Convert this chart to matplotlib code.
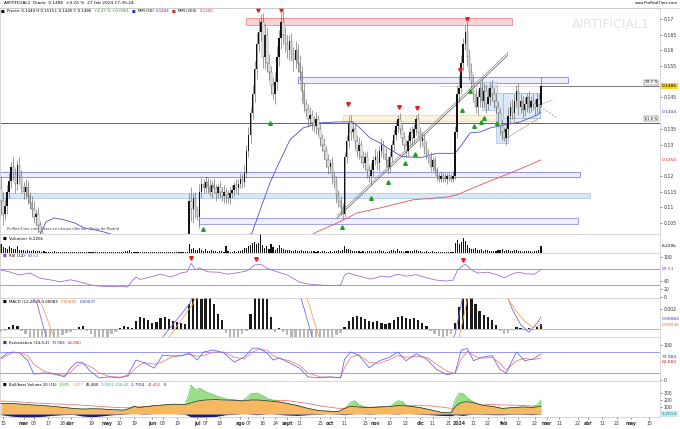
import numpy as np
import pandas as pd
import matplotlib
matplotlib.use('Agg')
import matplotlib.pyplot as plt
import matplotlib.transforms as mtransforms
from matplotlib.patches import Rectangle, FancyBboxPatch

W, H = 680, 429

# precios de cierre diarios (en 1e-4)
closes = [
    1120, 1080, 1105, 1150, 1185, 1230, 1205, 1175, 1235, 1200, 1165, 1150, 1165, 1135, 1115, 1095, 1070, 1080, 1045, 1020,
    1000, 985, 990, 975, 980, 965, 970, 960, 950, 955, 945,
    940, 935, 945, 930, 920, 925, 915, 910, 905, 900,
    895, 905, 890, 880, 885, 875, 870, 880, 865, 860,
    865, 855, 850, 860, 855, 845, 850, 840, 850, 845,
    860, 880, 905, 935, 920, 910, 915, 925, 930, 920,
    925, 935, 930, 940, 945, 935, 940, 950, 945, 955,
    950, 960, 955, 965, 960, 970, 965, 975, 970, 980, 975,
    1120, 1095, 1130, 1090, 1070, 1150, 1175, 1160, 1180, 1165, 1150, 1170, 1160, 1145, 1165, 1150, 1135, 1150, 1140, 1130,
    1145, 1155, 1170, 1160, 1175, 1190, 1180, 1210,
    1280, 1330, 1400, 1460, 1540, 1620, 1660, 1690, 1580, 1650, 1560, 1530, 1490, 1460, 1500, 1580, 1640, 1690, 1650, 1620,
    1600, 1630, 1590, 1570, 1600, 1560, 1530, 1470, 1430, 1410, 1380, 1395, 1370, 1360, 1380, 1350, 1320, 1300, 1280, 1250,
    1230, 1240, 1200, 1180, 1140, 1120, 1100, 1080,
    1260, 1310, 1370, 1340, 1350, 1310, 1280, 1300, 1260, 1240, 1260, 1220, 1200, 1220, 1250, 1260, 1240, 1280, 1300, 1270,
    1250, 1230, 1260, 1300, 1330, 1360, 1380, 1350, 1320, 1300, 1280, 1310, 1340, 1320, 1350, 1380, 1340, 1310, 1320, 1290,
    1270, 1260, 1230, 1250, 1220, 1200, 1190, 1200, 1195, 1190, 1200, 1195, 1190, 1200,
    1340, 1460, 1480, 1560, 1620, 1660, 1580, 1530, 1500, 1460, 1420, 1450, 1480, 1440, 1470, 1430, 1450, 1480, 1460, 1440,
    1420, 1400, 1360, 1340, 1320, 1350, 1390, 1420, 1400, 1440, 1470, 1420, 1440, 1410, 1430, 1450, 1420, 1440, 1430, 1420,
    1445, 1425, 1486,
]
first_open = 1160

wick_up = [
    40, 30, 25, 20, 25, 15, 30, 20, 15, 25, 20, 15, 25, 20, 15, 20, 25, 15, 20, 10,
    5, 10, 5, 10, 5, 10, 5, 10, 5, 10, 5, 10, 5, 10, 5, 10, 5, 10, 5, 10,
    5, 10, 5, 10, 5, 10, 5, 10, 5, 10, 5, 10, 5, 10, 5, 10, 5, 10, 5, 10,
    5, 10, 5, 10, 5, 10, 5, 10, 5, 10, 5, 10, 5, 10, 5, 10, 5, 10, 5, 10,
    5, 10, 5, 10, 5, 10, 5, 10, 5, 10, 5, 10, 25, 45, 15, 20, 15, 25, 20, 15,
    20, 15, 25, 15, 20, 15, 10, 20, 15, 20, 10, 15, 20, 15, 10, 20, 15, 20, 15, 25,
    20, 25, 20, 30, 25, 35, 40, 25, 30, 35, 25, 30, 20, 25, 30, 35, 25, 30, 35, 25,
    30, 20, 25, 20, 30, 20, 25, 20, 25, 15, 20, 25, 15, 20, 25, 15, 20, 15, 20, 15,
    20, 15, 20, 15, 20, 15, 15, 15, 15, 20, 20, 25, 20, 15, 20, 25, 15, 20, 15, 20,
    15, 20, 15, 25, 20, 15, 20, 15, 20, 15, 20, 15, 20, 15, 15, 20, 15, 20, 15, 20,
    15, 20, 15, 15, 20, 15, 20, 15, 20, 15, 15, 10, 15, 10, 10, 15, 10, 15, 10, 10,
    10, 15, 20, 30, 40, 25, 20, 20, 30, 25, 30, 25, 20, 25, 20, 30, 25, 20, 30, 20,
    25, 20, 25, 20, 15, 20, 15, 20, 25, 20, 25, 20, 20, 25, 20, 15, 20, 15, 20, 15,
    20, 15, 20, 15, 29,
]
wick_dn = [
    45, 35, 20, 25, 20, 25, 20, 30, 20, 25, 20, 25, 20, 25, 20, 25, 20, 30, 25, 20,
    10, 15, 10, 15, 10, 15, 10, 15, 10, 15, 10, 15, 10, 15, 10, 15, 10, 15, 10, 15,
    10, 15, 10, 15, 10, 15, 10, 15, 10, 15, 10, 15, 10, 15, 10, 15, 10, 15, 10, 15,
    10, 15, 10, 15, 10, 15, 10, 15, 10, 15, 10, 15, 10, 15, 10, 15, 10, 15, 10, 15,
    10, 15, 10, 15, 10, 15, 10, 15, 10, 15, 10, 15, 5, 40, 45, 25, 10, 35, 20, 15,
    15, 20, 15, 20, 15, 25, 15, 20, 15, 20, 25, 15, 20, 15, 20, 15, 20, 15, 20, 15,
    15, 20, 25, 20, 25, 30, 25, 30, 35, 40, 30, 25, 30, 15, 30, 25, 30, 35, 30, 25,
    25, 30, 25, 35, 25, 30, 25, 30, 25, 20, 25, 20, 25, 20, 25, 20, 25, 20, 25, 20,
    25, 20, 25, 20, 25, 20, 25, 15, 10, 20, 20, 25, 20, 25, 20, 25, 20, 15, 20, 25,
    20, 30, 20, 15, 20, 25, 20, 15, 20, 25, 20, 15, 20, 15, 20, 15, 20, 15, 20, 15,
    15, 20, 15, 20, 15, 20, 15, 20, 15, 20, 15, 15, 10, 15, 10, 10, 15, 10, 15, 10,
    10, 10, 10, 20, 25, 20, 25, 20, 30, 25, 20, 25, 20, 25, 30, 20, 25, 30, 20, 25,
    20, 25, 20, 25, 30, 25, 10, 20, 25, 20, 20, 25, 20, 25, 20, 25, 20, 25, 20, 15,
    20, 25, 20, 25, 5,
]

# volumen (miles)
volume = [
    8000, 5500, 4500, 3500, 6000, 5000, 4000, 3500, 6500, 3000, 2500, 3000, 2000, 2500, 1800, 2200, 3000, 2000, 1500, 1800,
    1200, 1500, 1000, 1300, 900, 1100, 1400, 800, 1000, 1200, 700, 900, 1100, 800, 600, 900, 1000, 700, 800, 600,
    900, 700, 1200, 800, 600, 700, 900, 500, 800, 600, 700, 1000, 500, 600, 800, 500, 700, 600, 900, 500,
    800, 1500, 2200, 2500, 1200, 900, 800, 1000, 700, 900, 600, 800, 1100, 700, 900, 600, 800, 700, 1000, 1200,
    800, 700, 900, 600, 800, 1000, 700, 900, 600, 800, 700, 1200, 8000, 3500, 4500, 2500, 3000, 5000, 2500, 2000,
    3500, 2000, 1800, 2500, 1500, 2000, 1200, 1800, 1500, 1000, 6000, 1500, 1200, 1000, 1400, 1200, 1800, 1500, 2500, 5000,
    4500, 6000, 7000, 9500, 10500, 8000, 9000, 18000, 7500, 5000, 6500, 4000, 8000, 5500, 3000, 4500, 7000, 5000, 3500, 3000,
    2500, 3000, 2000, 1800, 2500, 1500, 2000, 2500, 1800, 1500, 2000, 1200, 1500, 1800, 1000, 1500, 1200, 2000, 1500, 1000,
    1200, 1800, 1000, 1500, 2000, 2500, 1800, 3000, 6500, 4000, 3500, 2500, 2000, 1800, 1500, 2000, 1200, 1500, 1000, 1800,
    1500, 2000, 1200, 1500, 1800, 2500, 2000, 1500, 1200, 1000, 1800, 2500, 3000, 2000, 3500, 2000, 1500, 1200, 1800, 1500,
    2000, 1500, 2500, 3000, 1800, 1500, 1200, 1000, 1500, 1200, 1000, 1500, 800, 1200, 1000, 900, 1200, 800, 1000, 900,
    1000, 1200, 9000, 12000, 8000, 10000, 14000, 11000, 7000, 5000, 4000, 3500, 5000, 3000, 2500, 3500, 2000, 2500, 3000, 2000,
    1800, 2000, 1500, 2500, 3000, 3500, 2000, 2500, 3000, 2000, 1500, 2500, 3000, 1800, 1500, 1200, 2000, 1500, 1800, 1500,
    1200, 1500, 1800, 2500, 6220,
]

# medias moviles (puntos leidos)
mm50_i = [19, 22, 26, 31, 36, 41, 46, 50, 56, 70, 100, 115, 122.7, 127.6, 131.5, 135, 141.3, 147.7, 156, 164.3, 172,
          176.5, 180.4, 185.3, 190, 196, 205, 213, 222, 225.9, 229.3, 234.2, 239.1, 245.5, 253.8, 262.1, 264]
mm50_v = [0.1010, 0.1054, 0.1066, 0.1060, 0.1050, 0.1034, 0.1028, 0.1022, 0.1010, 0.0980, 0.0970, 0.0990, 0.1018, 0.1108,
          0.1178, 0.1229, 0.1315, 0.1353, 0.1369, 0.1372, 0.1372, 0.1347, 0.1321, 0.1305, 0.1285, 0.1262, 0.1258, 0.1272,
          0.1272, 0.1305, 0.1337, 0.1340, 0.1353, 0.1362, 0.1372, 0.1394, 0.1404]
mm200_i = [150, 154.5, 164.3, 174.1, 185.3, 201.5, 218.1, 223, 234.2, 250.4, 264]
mm200_v = [0.1005, 0.1022, 0.1050, 0.1082, 0.1098, 0.1124, 0.1133, 0.1140, 0.1171, 0.1213, 0.1251]

# RSI
rsi_i = [0, 4, 9, 14, 19, 24, 29, 34, 39, 44, 48, 53, 58, 62, 64, 66, 68, 73, 78, 83, 88, 91, 93, 95, 97, 101, 106, 111,
         115, 120, 124, 127, 130, 135, 140, 146, 151, 156, 161, 166, 168, 170, 173, 178, 181, 186, 190, 194, 198, 203,
         208, 213, 218, 221, 223, 225, 227, 230, 233, 238, 243, 246, 250, 253, 257, 261, 264]
rsi_v = [67, 63, 55, 60, 47, 43, 38, 43, 37, 30, 27, 26, 27, 25, 40, 50, 44, 50, 57, 50, 60, 63, 84, 68, 73, 63, 62, 57,
         60, 65, 80, 82, 72, 63, 55, 37, 32, 30, 28, 30, 55, 60, 55, 48, 45, 52, 50, 57, 52, 56, 48, 42, 40, 42, 65, 75,
         82, 68, 60, 62, 55, 48, 58, 62, 58, 57, 69.53]

# MACD (1e-4)
hist_v = [-3, -2, 2, 4, 3,
          -2, -5, -8, -10, -12, -12, -10, -10, -9, -8, -6, -4, -3, -1,
          2, 3,
          -2, -5, -9, -10, -10, -8, -5, -3,
          1, 3, 2, 1,
          8, 12, 11, 9, 6, 7, 11, 12, 10, 8, 7, 6, 5,
          25, 35, 33, 30, 34, 32, 25, 15, 9,
          -4, -8, -10, -8, -5, -2,
          15, 35, 40, 38, 30, 12,
          -3, 1,
          -3, -6, -9, -12, -14, -15, -15, -14, -13, -12, -10, -9, -8, -6, -4,
          2, 8, 12, 13, 12, 10, 8, 7, 8, 6, 5, 6,
          9, 12, 13, 11, 10, 11, 9, 6, 3, -2, -5,
          -7, -8, -7, -5, 6, 22, 35, 38, 33,
          25, 18, 14, 12, 9, 4, -2, -5, -4,
          -1, 2, 1, -1, 1, -1, 2, 5]
macd_i = [0, 10, 17.6, 22.5, 27, 50, 72, 77.8, 92.4, 98, 120, 142, 147, 152.6, 158, 190, 215, 222, 226, 232, 246, 250,
          254, 258, 262, 264]
macd_v = [60, 45, 26, -11, -40, -60, -40, -11, 26, 60, 80, 60, 29, -11, -40, -50, -30, -5, 35, 60, 40, 20, 5, -3, 6, 12]
sig_i = [0, 14, 20.5, 26.4, 31, 50, 76, 81, 94, 100, 120, 145, 150, 156, 162, 190, 218, 224, 228, 234, 248, 252, 256,
         260, 264]
sig_v = [55, 45, 22, -11, -40, -60, -40, -11, 26, 60, 80, 60, 29, -11, -40, -50, -30, -8, 30, 55, 30, 18, 8, 2, 4]

# Estocastico
sto_i = [0, 3, 6, 9, 13, 16, 21, 26, 31, 34, 37, 40, 44, 48, 53, 58, 62, 66, 70, 75, 79, 83, 88, 92, 96, 99, 104, 109,
         114, 119, 123, 126, 130, 133, 136, 141, 146, 150, 156, 161, 166, 168, 171, 175, 180, 185, 190, 194, 198, 203,
         208, 213, 218, 222, 225, 228, 231, 235, 240, 244, 247, 252, 256, 260, 264]
sto_k = [63, 77, 80, 77, 57, 17, 20, 17, 9, 34, 51, 49, 23, 6, 9, 6, 14, 57, 49, 34, 71, 69, 69, 77, 57, 80, 86, 77, 51,
         66, 91, 91, 77, 57, 63, 49, 34, 9, 6, 9, 6, 60, 80, 70, 35, 55, 65, 80, 55, 75, 60, 30, 15, 20, 85, 90, 55, 65,
         70, 30, 20, 80, 55, 60, 74]
sto_d = [60, 70, 78, 79, 70, 45, 25, 18, 13, 22, 40, 48, 38, 20, 10, 8, 10, 35, 50, 45, 52, 65, 70, 73, 68, 70, 80, 80,
         65, 60, 80, 88, 85, 70, 62, 55, 42, 20, 9, 8, 7, 35, 65, 72, 50, 48, 58, 70, 65, 68, 65, 45, 25, 18, 60, 82, 70,
         62, 65, 48, 28, 55, 62, 58, 63]

# Bull/bear
bb_i = [0, 5, 10, 15, 20, 25, 30, 35, 40, 45, 50, 55, 60, 63, 65, 67, 70, 75, 80, 85, 90, 92, 93, 95, 97, 100, 105, 108,
        110, 115, 118, 120, 122, 125, 128, 131, 135, 140, 145, 150, 155, 160, 165, 168, 171, 173, 175, 180, 185, 190,
        194, 196, 198, 200, 205, 210, 215, 220, 222, 224, 226, 228, 231, 236, 240, 245, 250, 255, 260, 262, 264]
bb_orange = [150, 150, 140, 130, 120, 110, 95, 80, 70, 75, 70, 60, 55, 80, 110, 95, 100, 120, 130, 140, 135, 150, 160,
             175, 190, 200, 205, 200, 200, 195, 185, 190, 200, 200, 195, 185, 175, 150, 120, 80, 50, 40, 35, 80, 110,
             105, 100, 90, 100, 105, 120, 120, 115, 110, 90, 60, 25, 15, 100, 150, 170, 175, 160, 120, 110, 80, 90,
             100, 95, 100, 110]
bb_green = [150, 150, 140, 130, 120, 110, 95, 80, 70, 75, 70, 60, 55, 80, 110, 95, 100, 120, 130, 140, 135, 300, 410,
            340, 370, 320, 260, 235, 215, 200, 190, 230, 290, 300, 260, 210, 180, 150, 120, 80, 50, 40, 35, 80, 170,
            190, 130, 90, 100, 105, 190, 180, 130, 110, 90, 60, 25, 15, 200, 300, 290, 230, 170, 120, 110, 80, 90,
            100, 95, 130, 200]
bb_navy = [-10, -30, -45, -50, -35, -20, -10, -5, -30, -40, -25, -10, -5, 0, 0, 0, -5, 0, 0, 0, -5, -30, -45, -55, -50,
           -45, -35, -20, -10, -5, 0, 0, -5, -10, -5, 0, -5, -15, -20, -10, -5, 0, -5, -10, -5, 0, 0, -5, 0, 0, -5, 0,
           0, 0, -5, -10, -20, -25, -10, -15, -20, -10, -5, -5, -10, -10, -5, -5, -10, -5, -5]
bb_pink = [185, 180, 170, 160, 150, 145, 140, 135, 125, 115, 105, 95, 90, 90, 95, 100, 105, 110, 115, 125, 130, 135, 140,
           145, 150, 160, 170, 175, 180, 185, 190, 195, 195, 200, 200, 200, 195, 190, 170, 150, 120, 100, 80, 75, 80, 85,
           90, 95, 100, 105, 110, 115, 115, 120, 120, 115, 100, 80, 80, 90, 100, 110, 120, 130, 135, 130, 125, 120,
           115, 115, 115]

# eje de fechas
holidays = ['2023-04-07', '2023-04-10', '2023-05-01', '2023-12-25', '2023-12-26', '2024-01-01', '2024-03-29',
            '2024-04-01', '2024-05-01']
days = pd.bdate_range('2023-02-14', '2024-05-31', freq='C', holidays=holidays)
tick_dates = ['2023-02-15', '2023-03-01', '2023-03-08', '2023-03-17', '2023-03-28', '2023-04-03', '2023-04-19',
              '2023-05-02', '2023-05-10', '2023-05-19', '2023-06-01', '2023-06-08', '2023-06-19', '2023-07-03',
              '2023-07-07', '2023-07-18', '2023-08-01', '2023-08-07', '2023-08-16', '2023-08-24', '2023-09-01',
              '2023-09-11', '2023-09-25', '2023-10-02', '2023-10-11', '2023-10-25', '2023-11-01', '2023-11-10',
              '2023-11-22', '2023-12-01', '2023-12-11', '2023-12-21', '2024-01-02', '2024-01-11', '2024-01-22',
              '2024-02-01', '2024-02-12', '2024-02-22', '2024-03-01', '2024-03-11', '2024-03-22', '2024-04-02',
              '2024-04-11', '2024-04-22', '2024-05-02', '2024-05-15']
tick_text = ['15', 'mar', '08', '17', '28', 'abr', '19', 'may', '10', '19', 'jun', '08', '19', 'jul', '07', '18', 'ago',
             '07', '16', '24', 'sept', '11', '25', 'oct', '11', '25', 'nov', '10', '22', 'dic', '11', '21', '2024', '11',
             '22', 'feb', '12', '22', 'mar', '11', '22', 'abr', '11', '22', 'may', '15']

# --- figura ---
fig = plt.figure(figsize=(W / 100, H / 100), dpi=100)
fig.patch.set_facecolor('white')
renderer = fig.canvas.get_renderer()


def panel(top, bottom):
    ax = fig.add_axes([0, 1 - bottom / H, 660 / W, (bottom - top) / H])
    ax.set_xlim(-0.5, 322.2)
    for s in ax.spines.values():
        s.set_color('#c8c8c8')
        s.set_linewidth(0.5)
    ax.yaxis.tick_right()
    ax.tick_params(axis='y', labelsize=3.3, length=1.5, width=0.4, pad=1, colors='#333333')
    ax.tick_params(axis='x', bottom=False, labelbottom=False)
    return ax


def seq_text(x, y, parts, size=2.9, box=None):
    # escribe trozos de texto uno tras otro, midiendo su ancho
    x0 = x
    for s, col in parts:
        t = fig.text(x / W, 1 - y / H, s, fontsize=size, color=col, va='center')
        x += t.get_window_extent(renderer).width + 2.5
    if box is not None:
        fig.add_artist(FancyBboxPatch(((x0 - 1.5) / W, 1 - (y + 3) / H), (x - x0) / W, 6 / H,
                                      boxstyle='square,pad=0', fc='white', ec='#bbbbbb', lw=0.3, zorder=-1,
                                      transform=fig.transFigure))


def tag(ax, y, s, fc, tc='black'):
    tr = mtransforms.blended_transform_factory(ax.transAxes, ax.transData)
    ax.text(1.003, y, s, transform=tr, fontsize=3.2, color=tc, va='center', ha='left',
            bbox=dict(boxstyle='square,pad=0.15', fc=fc, ec='none'), clip_on=False)


n = len(closes)
x = np.arange(n)
c = np.array(closes) / 1e4
o = np.r_[first_open, closes[:-1]] / 1e4
hi = np.maximum(o, c) + np.array(wick_up) / 1e4
lo = np.minimum(o, c) - np.array(wick_dn) / 1e4
up = c >= o
body_b = np.minimum(o, c)
body_h = np.maximum(np.abs(c - o), 0.0002)

# ---- precio ----
ax = panel(8, 234)
ax.set_ylim(0.1015, 0.1735)

zones = [
    (120, 250, 0.1681, 0.1703, '#f9cccc', '#ee7777'),
    (145, 277, 0.1496, 0.1515, '#ececfb', '#7070dd'),
    (167, 262, 0.1375, 0.1394, '#fdf1cf', '#f2d088'),
    (-1, 283, 0.1197, 0.1213, '#ececfb', '#7070dd'),
    (-1, 288, 0.1130, 0.1146, '#d3e3f6', '#a4c2ea'),
    (97, 282, 0.1047, 0.1066, '#eeeefc', '#8080e0'),
    (235, 242.5, 0.1410, 0.1499, '#d3e3f6', '#a4c2ea'),
    (242, 248, 0.1305, 0.1464, '#d3e3f6', '#a4c2ea'),
    (245.5, 263.6, 0.1385, 0.1464, '#dde9f8', '#8fb0e4'),
]
for i0, i1, p0, p1, fc, ec in zones:
    ax.add_patch(Rectangle((i0, p0), i1 - i0, p1 - p0, fc=fc, ec=ec, lw=0.6, zorder=1, alpha=0.85))

ax.axhline(0.1370, color='#222222', lw=0.5, zorder=2)
ax.plot([214, 264], [0.1486, 0.1486], color='#888888', lw=0.4, ls=(0, (1, 1)), zorder=2)
ax.plot([264, 322.2], [0.1486, 0.1486], color='#444444', lw=0.5, zorder=2)
ax.text(321, 0.1498, '38.2 %', fontsize=2.5, ha='right', va='center',
        bbox=dict(boxstyle='square,pad=0.2', fc='white', ec='#333333', lw=0.3))
ax.text(321, 0.1382, '61.8 %', fontsize=2.5, ha='right', va='center',
        bbox=dict(boxstyle='square,pad=0.2', fc='white', ec='#333333', lw=0.3))

# canal y lineas de tendencia
ax.plot([164.3, 247.9], [0.1066, 0.1585], color='#555555', lw=0.5, zorder=3)
ax.plot([164.3, 247.9], [0.1074, 0.1593], color='#888888', lw=0.5, zorder=3)
ax.plot([255.3, 270], [0.1410, 0.1442], color='#888888', lw=0.5, ls=(0, (3, 2)), zorder=3)
ax.plot([263.6, 271.9], [0.1420, 0.1385], color='#888888', lw=0.5, ls=(0, (3, 2)), zorder=3)
ax.plot([247, 262], [0.1320, 0.1380], color='#aaaaaa', lw=0.5, zorder=3)

ax.plot(mm50_i, mm50_v, color='#5050d0', lw=0.6, zorder=4)
ax.plot(mm200_i, mm200_v, color='#e85050', lw=0.6, zorder=4)

ax.vlines(x, lo, hi, color='#555555', lw=0.4, zorder=5)
ax.bar(x[up], body_h[up], bottom=body_b[up], width=0.75, color='#111111', lw=0, zorder=6)
ax.bar(x[~up], body_h[~up], bottom=body_b[~up], width=0.75, facecolor='white', edgecolor='#666666', lw=0.35, zorder=6)

red_arr = [(125.7, 0.1729), (136.9, 0.1729), (169.7, 0.1429), (194.6, 0.1420), (203.4, 0.1417), (224.5, 0.1538),
           (227.9, 0.1700)]
green_arr = [(98.8, 0.1031), (131.5, 0.1369), (166.7, 0.1038), (180.9, 0.1130), (189.2, 0.1181), (197.6, 0.1241),
             (202.4, 0.1270), (225.4, 0.1410), (229.3, 0.1471), (231.3, 0.1359), (234.7, 0.1372), (236.2, 0.1385),
             (242.5, 0.1369)]
ax.plot(*zip(*red_arr), ls='none', marker='v', ms=2.6, color='#e02020', zorder=7)
ax.plot(*zip(*green_arr), ls='none', marker='^', ms=2.6, color='#20a020', zorder=7)

pt = [0.105, 0.11, 0.115, 0.12, 0.13, 0.135, 0.145, 0.155, 0.16, 0.165, 0.17]
ax.set_yticks(pt)
ax.set_yticklabels(['{:g}'.format(v) for v in pt])
tag(ax, 0.1486, '0.1486', '#ffd21f')
tag(ax, 0.1404, '0.1404', 'white', '#3030c0')
tag(ax, 0.1250, '0.1250', 'white', '#e02020')
ax.text(0.01, 0.012, 'ProRealTime.com: Datos en tiempo diferido - Bolsa de Madrid', transform=ax.transAxes,
        fontsize=2.6, color='#444444', va='bottom')
ax.text(0.985, 0.955, 'AIRTIFICIAL1', transform=ax.transAxes, fontsize=9, color='#e4e4e4', ha='right', va='top',
        zorder=0)

# ---- volumen ----
av = panel(234, 253)
av.set_ylim(0, 17500)
av.bar(x, volume, width=0.55, color='#111111', lw=0)
av.set_yticks([])
tag(av, 6220, '6.220k', 'white')

# ---- RSI ----
ar = panel(253, 298)
ar.set_ylim(-2.5, 110)
ar.axhline(70, color='#8888ee', lw=0.6)
ar.axhline(30, color='#8888ee', lw=0.6)
ar.plot(rsi_i, rsi_v, color='#a070d8', lw=0.6)
ar.plot([92.9, 124.7, 225.9], [97, 96, 92], ls='none', marker='v', ms=2.6, color='#e02020')
ar.set_yticks([0, 20, 40, 100])
tag(ar, 69.53, '69.53', 'white', '#8a3fd0')

# ---- MACD ----
am = panel(298, 337)
am.set_ylim(-7.7e-4, 31.3e-4)
hx = np.arange(0, n, 2)
hv = np.array(hist_v) / 1e4
am.bar(hx[hv >= 0], hv[hv >= 0], width=1.1, color='#1a1a1a', lw=0)
am.bar(hx[hv < 0], hv[hv < 0], width=1.1, color='#b8b8b8', lw=0)
am.axhline(0, color='#9999ee', lw=0.5)
am.plot(macd_i, np.array(macd_v) / 1e4, color='#7070e8', lw=0.6)
am.plot(sig_i, np.array(sig_v) / 1e4, color='#f0a060', lw=0.6)
am.set_yticks([0.002])
am.set_yticklabels(['0.002'])
tag(am, 0.0010, '0.00083', 'white', '#3030c0')
tag(am, 0.0004, '0.00045', 'white', '#e07020')

# ---- estocastico ----
ast = panel(337, 381)
ast.set_ylim(-2.9, 122.9)
ast.axhline(80, color='#8888ee', lw=0.6)
ast.axhline(20, color='#8888ee', lw=0.6)
ast.plot(sto_i, sto_d, color='#f08080', lw=0.6)
ast.plot(sto_i, sto_k, color='#6a6ae8', lw=0.6)
ast.set_yticks([0, 100])
tag(ast, 66, '73.984', 'white', '#3030c0')
tag(ast, 50, '62.880', 'white', '#e02020')

# ---- bull/bear ----
ab = panel(381, 417)
ab.set_ylim(-43, 471)
ab.plot(bb_i, bb_pink, color='#f07878', lw=0.6, zorder=1)
ab.fill_between(bb_i, bb_orange, bb_green, color='#98e088', lw=0, zorder=2)
ab.plot(bb_i, bb_green, color='#40b040', lw=0.4, zorder=3)
ab.fill_between(bb_i, 0, bb_orange, color='#f6b860', lw=0, zorder=2)
ab.plot(bb_i, bb_orange, color='#3a2a10', lw=0.5, zorder=3)
ab.fill_between(bb_i, 0, bb_navy, color='#1c1c70', lw=0, zorder=2)
ab.set_yticks([100, 200, 300])
tag(ab, 0, '1.2014', '#bff0f0', '#208080')

tpos = days.get_indexer(pd.to_datetime(tick_dates))
ab.set_xticks(tpos)
ab.set_xticklabels(tick_text)
ab.tick_params(axis='x', bottom=True, labelbottom=True, labelsize=3.3, length=1.5, width=0.4, pad=1.5,
               colors='#333333')
for lab in ab.get_xticklabels():
    if not lab.get_text().isdigit() or lab.get_text() == '2024':
        lab.set_fontweight('bold')

# ---- textos de cabecera ----
seq_text(4, 3.5, [('AIRTIFICIAL1  Diario  0.1486  +4.25 %  27 feb 2024 17:35:24', 'black')], size=3.1)
fig.text(678 / W, 1 - 3.5 / H, 'www.ProRealTime.com', fontsize=2.7, ha='right', va='center')
fig.add_artist(plt.Line2D([0, 1], [1 - 7.5 / H, 1 - 7.5 / H], color='#c8c8c8', lw=0.5))
seq_text(1, 11.5, [('\u25a0', 'black'), ('Precio: 0.1440 H 0.1515 L 0.1440 C 0.1486', 'black'),
                   ('+4.25 % +0.0061', '#10a010'), ('\u25a0', '#3030c0'), ('MM (50)', 'black'),
                   ('0.1404', '#3030c0'), ('\u25a0', '#e02020'), ('MM (200)', 'black'), ('0.1250', '#e02020')],
         size=2.8)

seq_text(3, 238.5, [('\u25a0', 'black'), ('Volumen  6.220k', 'black')], box=True)
seq_text(3, 256, [('\u25a0', '#8a3fd0'), ('RSI (14)', 'black'), ('69.53', '#8a3fd0')])
seq_text(3, 302, [('\u25a0', 'black'), ('MACD (12,26,9) 0.00083', 'black'), ('0.00045', '#e07020'),
                  ('0.00037', '#3030c0')], box=True)
seq_text(3, 343, [('\u25a0', '#3030c0'), ('Estoc\u00e1stico (14,3,3)', 'black'), ('73.984', '#3030c0'),
                  ('62.880', '#e02020')])
seq_text(3, 384.5, [('\u25a0', 'black'), ('Bull/bear Volume 20 (15)', 'black'), ('1.530', '#20a020'),
                    ('1.077', '#e09030'), ('45.480', 'black'), ('1.0512 118.42', '#20a0a0'),
                    ('-1.7914', '#1c1c70'), ('41.455', '#e02020'), ('0', 'black')], size=2.7)

fig.savefig('out.png', dpi=100)
